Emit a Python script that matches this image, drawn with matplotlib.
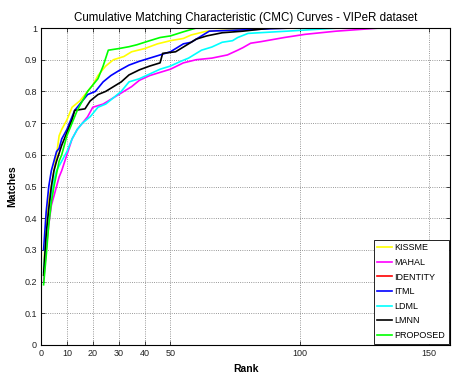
import matplotlib
matplotlib.use("Agg")
import matplotlib.pyplot as plt

plt.rcParams["font.family"] = ["Liberation Sans", "DejaVu Sans"]

# CMC data (rank, matching rate)
kissme_rank = [1, 2, 3, 4, 5, 6, 7, 8, 10, 12, 15, 18, 20, 22, 25, 28, 32, 35, 40, 45, 50, 55, 58, 64, 75, 95, 158]
kissme_match = [0.24, 0.38, 0.46, 0.50, 0.55, 0.60, 0.66, 0.68, 0.71, 0.75, 0.77, 0.80, 0.82, 0.85, 0.88, 0.90, 0.91,
                0.925, 0.935, 0.95, 0.96, 0.967, 0.978, 0.99, 0.995, 1.0, 1.0]

mahal_rank = [1, 2, 3, 4, 5, 6, 7, 8, 10, 12, 14, 16, 18, 20, 24, 28, 32, 35, 38, 42, 46, 50, 55, 60, 66, 72, 76,
              78, 81, 85, 94, 102, 114, 131, 158]
mahal_match = [0.20, 0.30, 0.38, 0.44, 0.47, 0.50, 0.53, 0.55, 0.60, 0.65, 0.68, 0.70, 0.72, 0.75, 0.76, 0.78, 0.80,
               0.815, 0.835, 0.85, 0.86, 0.87, 0.89, 0.90, 0.905, 0.915, 0.93, 0.938, 0.952, 0.957, 0.97, 0.98,
               0.99, 1.0, 1.0]

identity_rank = []
identity_match = []

itml_rank = [1, 2, 3, 4, 5, 6, 7, 8, 10, 11, 13, 15, 18, 21, 24, 27, 30, 34, 38, 42, 46, 50, 55, 58, 62, 65, 97, 158]
itml_match = [0.30, 0.42, 0.50, 0.55, 0.58, 0.61, 0.62, 0.65, 0.68, 0.70, 0.74, 0.76, 0.79, 0.80, 0.83, 0.85, 0.865,
              0.883, 0.895, 0.905, 0.915, 0.925, 0.95, 0.955, 0.975, 0.99, 1.0, 1.0]

ldml_rank = [1, 2, 3, 4, 5, 6, 8, 10, 12, 14, 16, 19, 22, 25, 28, 31, 34, 38, 42, 46, 50, 54, 57, 62, 66, 70, 74,
             76, 80, 95, 115, 158]
ldml_match = [0.23, 0.35, 0.42, 0.47, 0.52, 0.55, 0.58, 0.61, 0.65, 0.68, 0.70, 0.72, 0.75, 0.76, 0.78, 0.80, 0.83,
              0.84, 0.855, 0.87, 0.88, 0.895, 0.905, 0.93, 0.94, 0.955, 0.96, 0.97, 0.983, 0.99, 1.0, 1.0]

lmnn_rank = [1, 2, 3, 4, 5, 6, 8, 10, 12, 13, 17, 19, 22, 25, 28, 31, 34, 38, 42, 46, 47, 52, 55, 57, 60, 64, 70,
             78, 89, 158]
lmnn_match = [0.22, 0.35, 0.43, 0.50, 0.55, 0.58, 0.63, 0.67, 0.71, 0.74, 0.745, 0.77, 0.79, 0.80, 0.815, 0.83,
              0.852, 0.868, 0.88, 0.89, 0.92, 0.925, 0.94, 0.95, 0.965, 0.975, 0.985, 0.99, 1.0, 1.0]

proposed_rank = [1, 2, 3, 4, 5, 6, 7, 8, 10, 12, 14, 16, 18, 20, 22, 24, 26, 30, 34, 37, 42, 46, 50, 55, 60, 158]
proposed_match = [0.19, 0.28, 0.38, 0.45, 0.50, 0.54, 0.58, 0.60, 0.66, 0.70, 0.74, 0.77, 0.80, 0.82, 0.84, 0.88,
                  0.93, 0.935, 0.941, 0.947, 0.96, 0.97, 0.975, 0.988, 1.0, 1.0]

series = [
    ("KISSME", kissme_rank, kissme_match, "#ffff00"),
    ("MAHAL", mahal_rank, mahal_match, "#ff00ff"),
    ("IDENTITY", identity_rank, identity_match, "#ff0000"),
    ("ITML", itml_rank, itml_match, "#0000ff"),
    ("LDML", ldml_rank, ldml_match, "#00ffff"),
    ("LMNN", lmnn_rank, lmnn_match, "#000000"),
    ("PROPOSED", proposed_rank, proposed_match, "#00ff00"),
]

x_ticks = [0, 10, 20, 30, 40, 50, 100, 150]
y_ticks = [0, 0.1, 0.2, 0.3, 0.4, 0.5, 0.6, 0.7, 0.8, 0.9, 1.0]
y_tick_labels = ["0", "0.1", "0.2", "0.3", "0.4", "0.5", "0.6", "0.7", "0.8", "0.9", "1"]

fig = plt.figure(figsize=(4.54, 3.74), dpi=100)
ax = fig.add_axes([41 / 454, 29 / 374, 409 / 454, 317 / 374])

for name, r, m, c in series:
    ax.plot(r, m, color=c, linewidth=1.2, label=name)

ax.set_xlim(0, 158)
ax.set_ylim(0, 1)
ax.set_xticks(x_ticks)
ax.set_yticks(y_ticks)
ax.set_yticklabels(y_tick_labels)
ax.tick_params(direction="in", length=3, width=0.5, labelsize=6.5, top=True, right=True, pad=3,
               labelcolor="#222222")
ax.grid(True, linestyle=":", color="#777777", linewidth=0.6)
for s in ax.spines.values():
    s.set_linewidth(0.8)

ax.set_title("Cumulative Matching Characteristic (CMC) Curves - VIPeR dataset", fontsize=8.3, pad=5)
ax.set_xlabel("Rank", fontsize=7.5, fontweight="bold", labelpad=4)
ax.set_ylabel("Matches", fontsize=7.5, fontweight="bold", labelpad=5)

leg = ax.legend(loc="lower right", fontsize=6.5, frameon=True, fancybox=False, edgecolor="black",
                borderpad=0.4, labelspacing=0.62, handlelength=1.6, handletextpad=0.3,
                borderaxespad=0.15, framealpha=1)
leg.get_frame().set_linewidth(0.6)

fig.savefig("out.png", dpi=100)
